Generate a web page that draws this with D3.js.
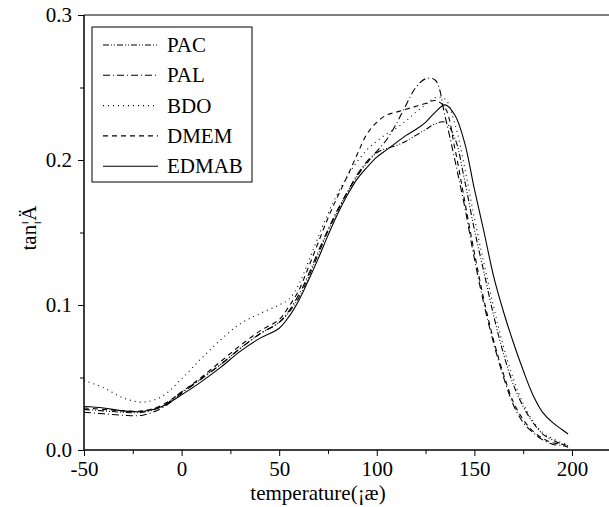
<!DOCTYPE html>
<html><head><meta charset="utf-8">
<script src="https://cdn.jsdelivr.net/npm/d3@7"></script>
<style>body{margin:0;background:#fff}svg{display:block}</style>
</head><body><svg id="c" width="609" height="507"></svg>
<script>
const temps = [-50,-40,-30,-20,-10,0,10,20,30,40,50,55,60,65,70,75,80,85,90,95,100,105,110,115,120,125,130,135,140,145,150,155,160,165,170,175,180,185,190,195,198];
const PAC   = [0.028,0.027,0.026,0.026,0.030,0.040,0.049,0.059,0.070,0.080,0.088,0.095,0.105,0.119,0.135,0.151,0.165,0.178,0.189,0.198,0.205,0.208,0.210,0.213,0.217,0.221,0.225,0.226,0.215,0.186,0.152,0.122,0.092,0.066,0.045,0.030,0.019,0.011,0.007,0.004,0.003];
const PAL   = [0.026,0.025,0.024,0.024,0.029,0.039,0.049,0.059,0.070,0.080,0.088,0.096,0.107,0.121,0.137,0.152,0.166,0.178,0.190,0.199,0.206,0.214,0.225,0.238,0.250,0.256,0.255,0.230,0.200,0.168,0.132,0.100,0.073,0.050,0.031,0.019,0.012,0.007,0.004,0.003,0.002];
const BDO   = [0.048,0.043,0.036,0.033,0.037,0.049,0.063,0.076,0.087,0.094,0.100,0.104,0.114,0.130,0.147,0.163,0.177,0.189,0.199,0.207,0.213,0.218,0.222,0.227,0.233,0.238,0.243,0.242,0.225,0.195,0.160,0.128,0.098,0.071,0.049,0.032,0.020,0.012,0.008,0.005,0.004];
const DMEM  = [0.029,0.028,0.027,0.027,0.031,0.040,0.050,0.061,0.072,0.082,0.090,0.099,0.110,0.126,0.143,0.160,0.175,0.189,0.204,0.218,0.226,0.231,0.233,0.235,0.237,0.239,0.241,0.236,0.208,0.172,0.136,0.103,0.075,0.052,0.033,0.021,0.013,0.008,0.005,0.004,0.003];
const EDMAB = [0.030,0.029,0.027,0.0265,0.030,0.038,0.047,0.057,0.068,0.077,0.084,0.092,0.103,0.117,0.132,0.148,0.163,0.176,0.187,0.195,0.202,0.207,0.212,0.217,0.221,0.226,0.233,0.238,0.231,0.212,0.180,0.150,0.119,0.095,0.074,0.055,0.038,0.026,0.019,0.014,0.011];
const seriesNames = ["PAC","PAL","BDO","DMEM","EDMAB"];
const xTicks = [-50,0,50,100,150,200];
const xMinor = [-25,25,75,125,175];
const yTicks = [0.0,0.1,0.2,0.3];
const yMinor = [0.05,0.15,0.25];
const xTitle = "temperature(¡æ)";
const yTitle = "tan¦Ä";

const seriesData = {PAC, PAL, BDO, DMEM, EDMAB};
const dashes = {PAC:"6,2,1,2,1,2", PAL:"7,3,1,3", BDO:"1,4", DMEM:"5,4", EDMAB:null};
const FONT = "'Liberation Serif'";

const svg = d3.select("#c");
const x = d3.scaleLinear().domain([-50,220]).range([84,611]);
const y = d3.scaleLinear().domain([0,0.3]).range([450,15]);

svg.append("line").attr("x1",84).attr("x2",611).attr("y1",15).attr("y2",15).attr("stroke","#000").attr("stroke-width",1);

const line = d3.line().x((d,i)=>x(temps[i])).y(d=>y(d)).curve(d3.curveCatmullRom.alpha(0.5));
seriesNames.forEach(n=>{
  svg.append("path").attr("d",line(seriesData[n])).attr("fill","none").attr("stroke","#000")
    .attr("stroke-width",1.1).attr("stroke-dasharray",dashes[n]);
});

// x axis
const gx = svg.append("g").attr("transform","translate(0,450)");
gx.call(d3.axisBottom(x).tickValues(xTicks).tickSize(6).tickFormat(d=>d<0?"-"+Math.abs(d):String(d)));
gx.append("g").call(d3.axisBottom(x).tickValues(xMinor).tickSize(4).tickFormat(""));
gx.selectAll(".domain").attr("d","M84,0H611").attr("stroke","#000");
gx.selectAll("text").attr("y",8).attr("dy","0.85em").attr("font-family",FONT).attr("font-size",21).attr("fill","#000");

// y axis
const gy = svg.append("g").attr("transform","translate(84,0)");
gy.call(d3.axisLeft(y).tickValues(yTicks).tickSize(6).tickFormat(d3.format(".1f")));
gy.append("g").call(d3.axisLeft(y).tickValues(yMinor).tickSize(4).tickFormat(""));
gy.selectAll(".domain").attr("d","M0,15V450").attr("stroke","#000");
gy.selectAll("text").attr("x",-12).attr("font-family",FONT).attr("font-size",21).attr("fill","#000");

svg.append("text").attr("x",318).attr("y",500).attr("text-anchor","middle").attr("font-size",21).attr("font-family",FONT).text(xTitle);
svg.append("text").attr("transform","translate(36,228) rotate(-90)").attr("text-anchor","middle").attr("font-size",21).attr("font-family",FONT).text(yTitle);

// legend
const lg = svg.append("g");
lg.append("rect").attr("x",92).attr("y",27).attr("width",160).attr("height",155).attr("fill","#fff").attr("stroke","#000");
seriesNames.forEach((n,i)=>{
  const cy = 45 + i*30.3;
  lg.append("line").attr("x1",103).attr("x2",158).attr("y1",cy).attr("y2",cy).attr("stroke","#000").attr("stroke-width",1.1).attr("stroke-dasharray",dashes[n]);
  lg.append("text").attr("x",167).attr("y",cy+7).attr("font-size",21).attr("font-family",FONT).text(n);
});
</script></body></html>
